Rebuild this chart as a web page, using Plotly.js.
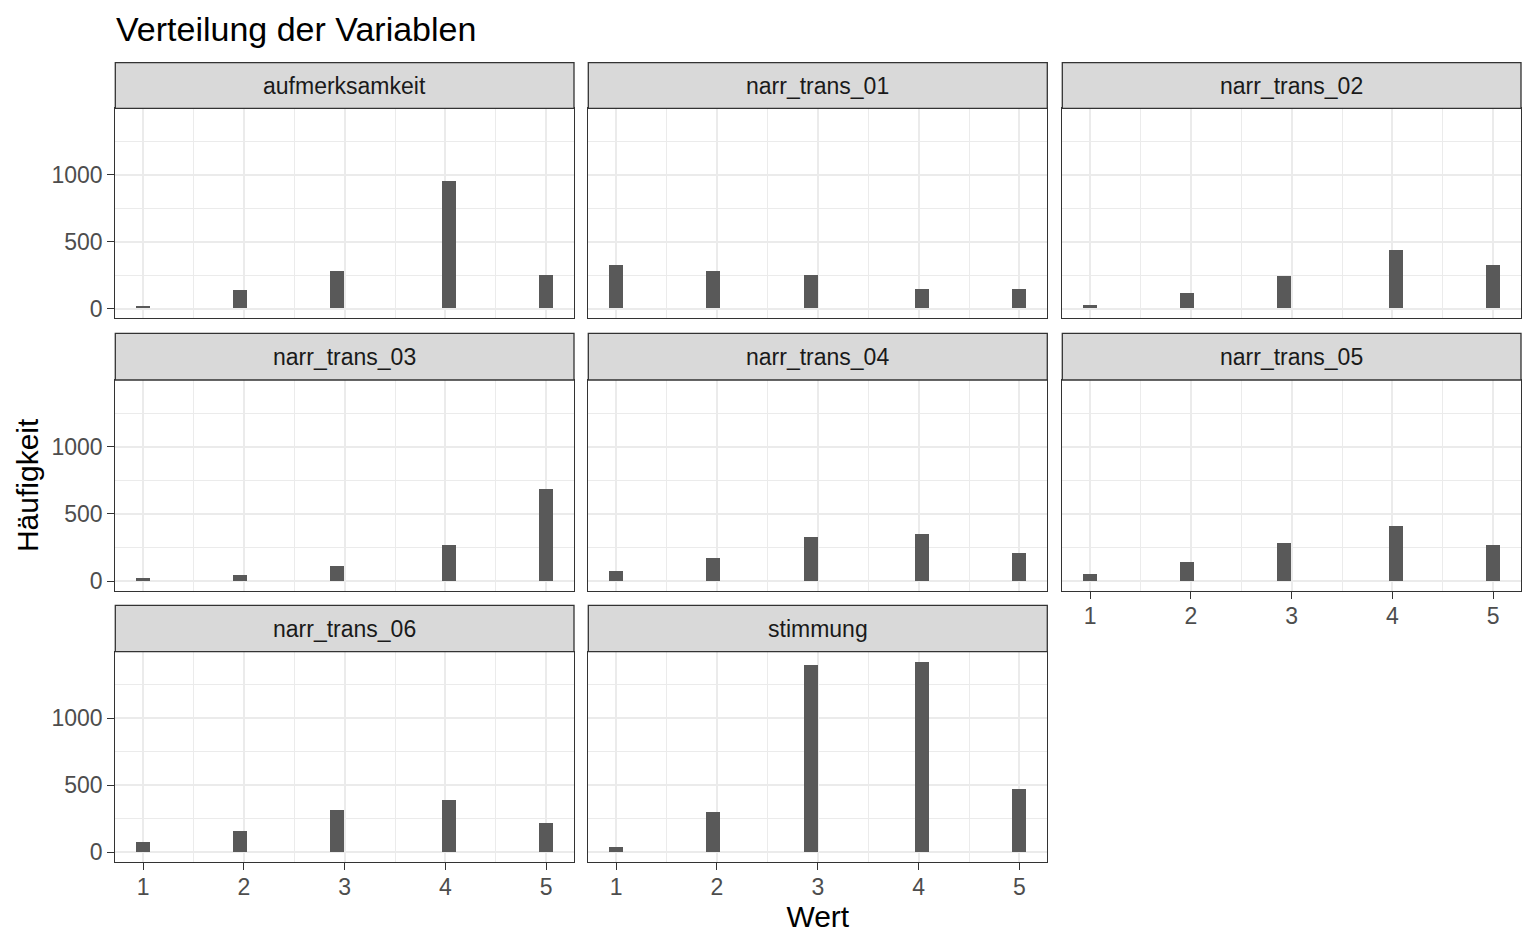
<!DOCTYPE html>
<html>
<head>
<meta charset="utf-8">
<script src="https://cdn.plot.ly/plotly-3.0.1.min.js"></script>
<style>html,body{margin:0;padding:0;background:#fff;}#chart{width:1536px;height:949px;}</style>
</head>
<body>
<div id="chart"></div>
<script>
// ---- data (counts) ----
const variables = ['aufmerksamkeit','narr_trans_01','narr_trans_02','narr_trans_03','narr_trans_04','narr_trans_05','narr_trans_06','stimmung'];
const werte = [1, 2, 3, 4, 5];
const aufmerksamkeit = [20, 140, 282, 948, 250];
const narr_trans_01 = [328, 282, 250, 145, 145];
const narr_trans_02 = [25, 118, 242, 440, 328];
const narr_trans_03 = [25, 48, 115, 272, 685];
const narr_trans_04 = [78, 175, 332, 348, 212];
const narr_trans_05 = [55, 145, 280, 408, 272];
const narr_trans_06 = [80, 162, 320, 388, 222];
const stimmung = [42, 305, 1402, 1425, 470];
const counts = [aufmerksamkeit, narr_trans_01, narr_trans_02, narr_trans_03, narr_trans_04, narr_trans_05, narr_trans_06, stimmung];
const yTicks = [0, 500, 1000];
const xTicks = [1, 2, 3, 4, 5];

// ---- histogram binning like ggplot (30 bins, right-closed) ----
const nBins = 30;
const xmin = Math.min(...werte), xmax = Math.max(...werte);
const bw = (xmax - xmin) / (nBins - 1);
function binCenter(v) {
  const k = Math.max(0, Math.ceil((v - (xmin - bw / 2)) / bw - 1e-9) - 1);
  return xmin + k * bw;
}
const binX = werte.map(binCenter);
const lo = xmin - bw / 2, hi = xmax + bw / 2;
const xRange = [lo - 0.05 * (hi - lo), hi + 0.05 * (hi - lo)];
const ymax = Math.max(...counts.flat());
const yRange = [-0.05 * ymax, 1.05 * ymax];

// ---- layout geometry (pixels) ----
const W = 1536, H = 949;
const colL = [115.3, 588.3, 1062.3], colR = [574, 1047.3, 1521];
const rowTop = [108.3, 380, 651.7], rowBot = [318.3, 590.7, 861.7], stripTop = [62.7, 333.3, 605.3];
const px = v => v / W, py = v => 1 - v / H;

const font = 'Liberation Sans, Arial, sans-serif';
const traces = [], shapes = [], annotations = [];
const layout = {
  width: W, height: H,
  margin: {l: 0, r: 0, t: 0, b: 0},
  paper_bgcolor: '#ffffff', plot_bgcolor: '#ffffff',
  showlegend: false,
  bargap: 0,
  font: {family: font, color: '#4D4D4D', size: 23},
  title: {text: 'Verteilung der Variablen', x: px(116), xanchor: 'left', xref: 'paper',
          y: py(29), yanchor: 'middle', yref: 'paper', font: {family: font, size: 34, color: '#000000'}}
};

variables.forEach((name, i) => {
  const r = Math.floor(i / 3), c = i % 3;
  const n = i + 1;
  const xa = 'x' + (n === 1 ? '' : n), ya = 'y' + (n === 1 ? '' : n);
  traces.push({
    type: 'bar', x: binX, y: counts[i], width: bw,
    xaxis: xa, yaxis: ya,
    marker: {color: '#595959', line: {width: 0}},
    hovertemplate: name + '<br>Wert %{x:.2f}<br>Häufigkeit %{y}<extra></extra>'
  });
  const showX = (r === 2) || (r === 1 && c === 2);
  const showY = (c === 0);
  layout['xaxis' + (n === 1 ? '' : n)] = {
    domain: [px(colL[c]), px(colR[c])], anchor: ya,
    range: xRange, tickmode: 'array', tickvals: xTicks, ticktext: xTicks.map(String),
    showgrid: true, gridcolor: '#EBEBEB', gridwidth: 1.6,
    minor: {dtick: 0.5, tick0: 1, showgrid: true, gridcolor: '#EBEBEB', gridwidth: 0.8, ticks: ''},
    zeroline: false,
    showline: true, mirror: true, linecolor: '#333333', linewidth: 1.3,
    ticks: showX ? 'outside' : '', ticklen: 7, tickwidth: 1.3, tickcolor: '#333333',
    showticklabels: showX, ticklabelstandoff: -2,
    tickfont: {family: font, size: 23, color: '#4D4D4D'},
    fixedrange: true,
    title: (i === 7) ? {text: 'Wert', font: {family: font, size: 30, color: '#000000'}, standoff: 4} : {text: ''}
  };
  layout['yaxis' + (n === 1 ? '' : n)] = {
    domain: [py(rowBot[r]), py(rowTop[r])], anchor: xa,
    range: yRange, tickmode: 'array', tickvals: yTicks, ticktext: yTicks.map(String),
    showgrid: true, gridcolor: '#EBEBEB', gridwidth: 1.6,
    minor: {dtick: 250, tick0: 0, showgrid: true, gridcolor: '#EBEBEB', gridwidth: 0.8, ticks: ''},
    zeroline: false,
    showline: true, mirror: true, linecolor: '#333333', linewidth: 1.3,
    ticks: showY ? 'outside' : '', ticklen: 7, tickwidth: 1.3, tickcolor: '#333333',
    showticklabels: showY,
    tickfont: {family: font, size: 23, color: '#4D4D4D'},
    fixedrange: true,
    title: (i === 3) ? {text: 'Häufigkeit', font: {family: font, size: 30, color: '#000000'}, standoff: 3} : {text: ''}
  };
  // strip
  shapes.push({type: 'rect', xref: 'paper', yref: 'paper',
    x0: px(colL[c]), x1: px(colR[c]), y0: py(rowTop[r]), y1: py(stripTop[r]),
    fillcolor: '#D9D9D9', line: {color: '#333333', width: 1.3}, layer: 'above'});
  annotations.push({xref: 'paper', yref: 'paper',
    x: px((colL[c] + colR[c]) / 2), y: py((stripTop[r] + rowTop[r]) / 2),
    xanchor: 'center', yanchor: 'middle', showarrow: false,
    text: name, font: {family: font, size: 23, color: '#1A1A1A'}});
});
layout.shapes = shapes;
layout.annotations = annotations;

Plotly.newPlot('chart', traces, layout, {displayModeBar: false, staticPlot: false, responsive: false});
</script>
</body>
</html>
